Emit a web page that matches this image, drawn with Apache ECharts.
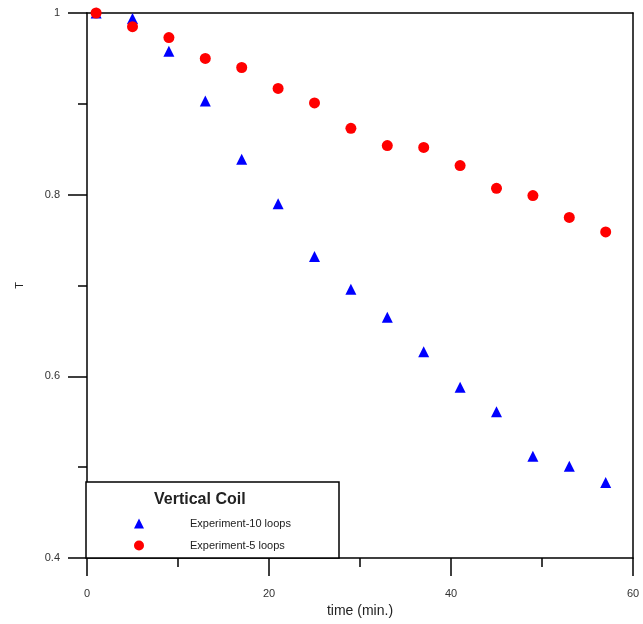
<!DOCTYPE html>
<html>
<head>
<meta charset="utf-8">
<script src="https://cdn.jsdelivr.net/npm/echarts@6/dist/echarts.min.js"></script>
<style>
html,body{margin:0;padding:0;background:#fff;}
#main{width:643px;height:624px;}
</style>
</head>
<body>
<div id="main"></div>
<script>
// time in minutes
var times = [1, 5, 9, 13, 17, 21, 25, 29, 33, 37, 41, 45, 49, 53, 57];
var loops10 = [1.0, 0.994, 0.958, 0.903, 0.839, 0.790, 0.732, 0.696, 0.665, 0.627, 0.588, 0.561, 0.512, 0.501, 0.483];
var loops5 = [1.0, 0.985, 0.973, 0.950, 0.940, 0.917, 0.901, 0.873, 0.854, 0.852, 0.832, 0.807, 0.799, 0.775, 0.759];
var names = ['Experiment-10 loops', 'Experiment-5 loops'];

var pairs = function(xs, ys) {
    var out = [];
    for (var i = 0; i < xs.length; i++) out.push([xs[i], ys[i]]);
    return out;
};

var myChart = echarts.init(document.getElementById('main'));
var lbl = {color: '#333', fontSize: 11, fontFamily: 'Liberation Sans, Arial'};
var option = {
    animation: false,
    grid: {left: 87, right: 10, top: 13, bottom: 66},
    legend: {
        orient: 'vertical',
        left: 129, top: 513, z: 20,
        itemWidth: 10, itemHeight: 10, itemGap: 11,
        data: [{name: names[0], icon: 'triangle'}, {name: names[1], icon: 'circle'}],
        textStyle: {fontSize: 11, color: '#222', fontFamily: 'Liberation Sans, Arial', padding: [0, 0, 0, 41]}
    },
    graphic: [
        {type: 'rect', shape: {x: 86, y: 482, width: 253, height: 76}, style: {fill: '#fff', stroke: '#000', lineWidth: 1.5}, z: 5},
        {type: 'text', left: 154, top: 492, style: {text: 'Vertical Coil', font: 'bold 16px Liberation Sans, Arial', fill: '#222'}, z: 6}
    ],
    xAxis: [{
        type: 'value', min: 0, max: 60, interval: 20,
        name: 'time (min.)', nameLocation: 'middle', nameGap: 45,
        nameTextStyle: {fontSize: 14, color: '#222', fontFamily: 'Liberation Sans, Arial'},
        axisLine: {lineStyle: {color: '#000', width: 1.5}},
        axisTick: {inside: false, length: 18, lineStyle: {color: '#000', width: 1.5}},
        minorTick: {show: true, splitNumber: 2, length: 9, lineStyle: {color: '#000', width: 1.5}},
        axisLabel: Object.assign({margin: 30}, lbl),
        splitLine: {show: false}
    }, {
        type: 'value', position: 'top', min: 0, max: 60,
        axisLine: {show: true, onZero: false, lineStyle: {color: '#000', width: 1.5}},
        axisTick: {show: false}, axisLabel: {show: false}, splitLine: {show: false}
    }],
    yAxis: [{
        type: 'value', min: 0.4, max: 1, interval: 0.2,
        name: 'T', nameLocation: 'middle', nameGap: 62, nameRotate: 90,
        nameTextStyle: {fontSize: 11, color: '#222', fontFamily: 'Liberation Sans, Arial'},
        axisLine: {show: true, lineStyle: {color: '#000', width: 1.5}},
        axisTick: {show: true, inside: false, length: 19, lineStyle: {color: '#000', width: 1.5}},
        minorTick: {show: true, splitNumber: 2, length: 9, lineStyle: {color: '#000', width: 1.5}},
        axisLabel: Object.assign({margin: 27, formatter: function(v) { return v === 1 ? '1' : v.toFixed(1); }}, lbl),
        splitLine: {show: false}
    }, {
        type: 'value', position: 'right', min: 0.4, max: 1,
        axisLine: {show: true, onZero: false, lineStyle: {color: '#000', width: 1.5}},
        axisTick: {show: false}, axisLabel: {show: false}, splitLine: {show: false}
    }],
    series: [{
        name: names[0], type: 'scatter', symbol: 'triangle', symbolSize: 11,
        itemStyle: {color: '#0000ff', opacity: 1}, z: 3,
        data: pairs(times, loops10)
    }, {
        name: names[1], type: 'scatter', symbol: 'circle', symbolSize: 11,
        itemStyle: {color: '#ff0000', opacity: 1}, z: 4,
        data: pairs(times, loops5)
    }]
};
myChart.setOption(option);
</script>
</body>
</html>
